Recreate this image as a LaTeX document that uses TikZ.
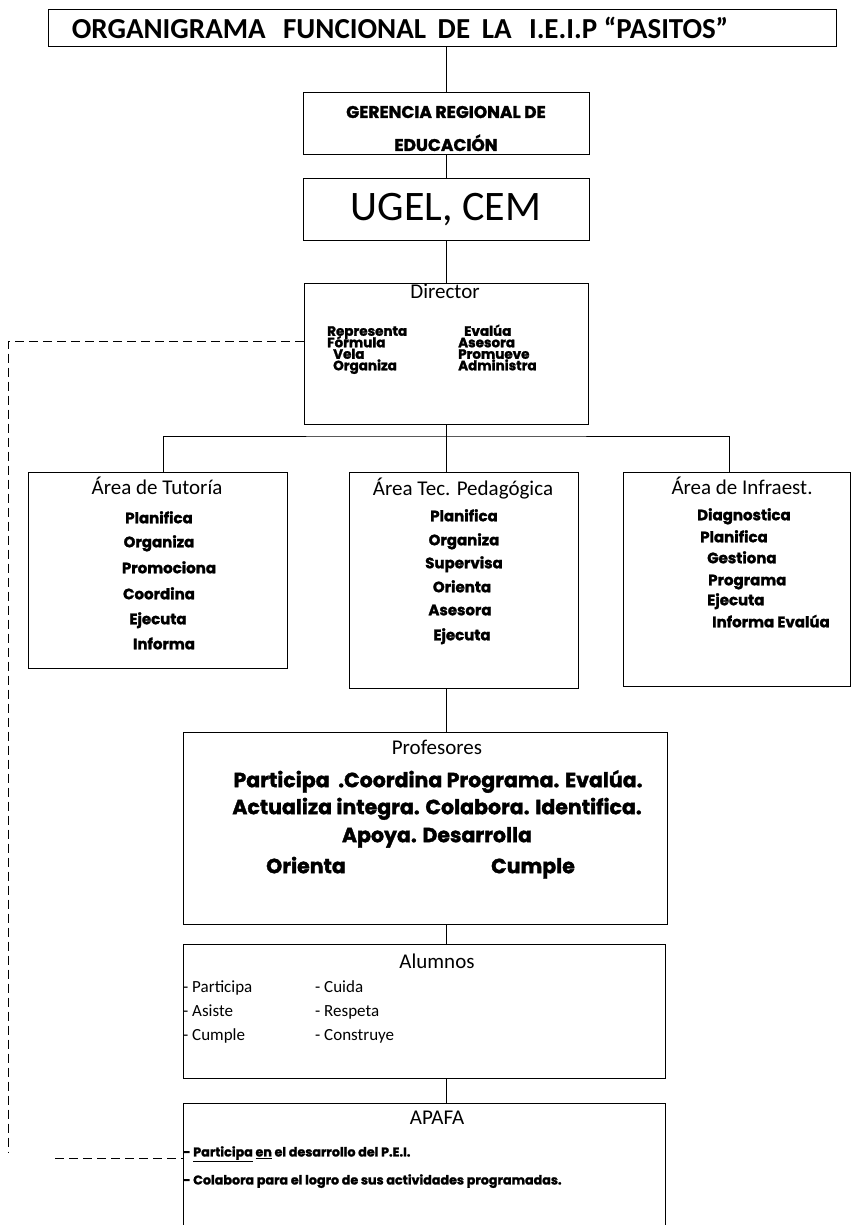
\documentclass[tikz,border=0pt]{standalone}
\usepackage{fontspec}
\setmainfont{Carlito}
\newfontfamily\gruesa{Poppins}[BoldFeatures={FakeBold=1.6}]
\usetikzlibrary{positioning}

\tikzset{
  caja/.style={draw, line width=1pt, inner sep=0pt},
  enlace/.style={line width=0.9pt},
  punteado/.style={line width=0.9pt, dash pattern=on 9pt off 5pt},
  titular/.style={inner sep=0pt, text height=13.5pt, text depth=0pt, font=\fontsize{21}{21}\selectfont},
  verbo/.style={inner sep=0pt, text height=10.5pt, text depth=0pt, font=\gruesa\bfseries\fontsize{15}{15}\selectfont},
  lista/.style={inner sep=0pt, anchor=west, text height=11pt, text depth=0pt, font=\fontsize{17}{17}\selectfont},
}

\begin{document}
\begin{tikzpicture}[x=1pt,y=-1pt]
  \useasboundingbox (0,0) rectangle (852,1225);

  % cajas
  \node[caja, minimum width=788, minimum height=37] (titulo) at (442,28.5) {};
  \node[caja, minimum width=286, minimum height=62] (gerencia) at (446,124) {};
  \node[caja, minimum width=286, minimum height=61] (ugel) at (446,209.5) {};
  \node[caja, minimum width=284, minimum height=141] (director) at (446,353.5) {};
  \node[caja, minimum width=259, minimum height=196] (tutoria) at (157.5,570) {};
  \node[caja, minimum width=229, minimum height=216] (pedagogica) at (463.5,580) {};
  \node[caja, minimum width=227, minimum height=214] (infra) at (736.5,579) {};
  \node[caja, minimum width=484, minimum height=192] (profesores) at (425,828) {};
  \node[caja, minimum width=482, minimum height=134] (alumnos) at (424,1011) {};
  \node[caja, minimum width=482, minimum height=140] (apafa) at (424,1173) {};

  % textos de cabecera
  \node[inner sep=0pt, text height=18.7pt, text depth=0pt, font=\bfseries\fontsize{29}{29}\selectfont] (tituloTxt) at (400,29)
    {ORGANIGRAMA\hspace{0.6em}FUNCIONAL\hspace{0.4em}DE\hspace{0.4em}LA\hspace{0.6em}I.E.I.P “PASITOS”};
  \node[verbo, text height=12pt, font=\gruesa\bfseries\fontsize{17}{17}\selectfont] (gerenciaTxt) at (446,112) {GERENCIA REGIONAL DE};
  \node[verbo, text height=12pt, font=\gruesa\bfseries\fontsize{17}{17}\selectfont] (educacionTxt) at (446,145) {EDUCACIÓN};
  \node[inner sep=0pt, text height=27pt, text depth=0pt, font=\fontsize{42}{42}\selectfont] (ugelTxt) at (446,207) {UGEL, CEM};
  \node[titular] (directorTxt) at (445,292) {Director};
  \node[titular] (tutoriaTxt) at (157,488) {Área de Tutoría};
  \node[titular] (pedagogicaTxt) at (463,489) {Área Tec. Pedagógica};
  \node[titular] (infraTxt) at (742,488) {Área de Infraest.};
  \node[titular] (profesoresTxt) at (437,748) {Profesores};
  \node[titular] (alumnosTxt) at (437,962) {Alumnos};
  \node[titular] (apafaTxt) at (437,1118) {APAFA};

  % funciones del director
  \foreach \a/\xa/\b/\xb [count=\i] in {Representa/327/Evalúa/464, Fórmula/327/Asesora/458,
      Vela/333/Promueve/458, Organiza/333/Administra/458} {
    \node[verbo, anchor=west, text height=9.5pt, font=\gruesa\bfseries\fontsize{13.5}{13.5}\selectfont] (dirA\i) at (\xa,319.5+11.5*\i) {\a};
    \node[verbo, anchor=west, text height=9.5pt, font=\gruesa\bfseries\fontsize{13.5}{13.5}\selectfont] (dirB\i) at (\xb,319.5+11.5*\i) {\b};
  }

  % funciones de las areas
  \foreach \v/\x/\y [count=\i] in {Planifica/159/518, Organiza/159/542, Promociona/169/568,
      Coordina/159/594, Ejecuta/158/619, Informa/164/644}
    \node[verbo] (tut\i) at (\x,\y) {\v};
  \foreach \v/\x/\y [count=\i] in {Planifica/464/516, Organiza/464/540, Supervisa/464/563,
      Orienta/462/587, Asesora/460/610, Ejecuta/462/635}
    \node[verbo] (ped\i) at (\x,\y) {\v};
  \foreach \v/\x/\y [count=\i] in {Diagnostica/697/515, Planifica/700/537, Gestiona/707/558,
      Programa/708/580, Ejecuta/707/600, Informa Evalúa/712/622}
    \node[verbo, anchor=west] (inf\i) at (\x,\y) {\v};

  % profesores
  \begin{scope}[every node/.style={verbo, text height=14.4pt, font=\gruesa\bfseries\fontsize{20.5}{20.5}\selectfont}]
    \node (prof1) at (438,780) {Participa \ .Coordina Programa. Evalúa.};
    \node (prof2) at (437,807) {Actualiza integra. Colabora. Identifica.};
    \node (prof3) at (437,835) {Apoya. Desarrolla};
    \node (prof4) at (306,866) {Orienta};
    \node (prof5) at (533,866) {Cumple};
  \end{scope}

  % alumnos
  \foreach \a/\b [count=\i] in {Participa/Cuida, Asiste/Respeta, Cumple/Construye} {
    \node[lista] (aluA\i) at (183,963+24*\i) {- \a};
    \node[lista] (aluB\i) at (315,963+24*\i) {- \b};
  }

  % apafa
  \node[verbo, anchor=west, text height=8.9pt, font=\gruesa\bfseries\fontsize{12.7}{12.7}\selectfont] (apafa1) at (183,1152)
    {- \underline{Participa}\ \underline{en} el desarrollo del P.E.I.};
  \node[verbo, anchor=west, text height=8.9pt, font=\gruesa\bfseries\fontsize{12.7}{12.7}\selectfont] (apafa2) at (183,1180)
    {- Colabora para el logro de sus actividades programadas.};

  % enlaces
  \coordinate (bus) at (446,436);
  \draw[enlace] (gerencia.north |- titulo.south) -- (gerencia.north);
  \draw[enlace] (gerencia.south) -- (ugel.north);
  \draw[enlace] (ugel.south) -- (director.north);
  \draw[enlace] (director.south) -- (bus);
  \draw[enlace] ([xshift=5.5pt]tutoria.north) |- (bus) -| ([xshift=-7.5pt]infra.north);
  \draw[enlace] (bus) -- (pedagogica.north -| bus);
  \draw[enlace] (pedagogica.south -| bus) -- (profesores.north -| bus);
  \draw[enlace] (profesores.south -| bus) -- (alumnos.north -| bus);
  \draw[enlace] (alumnos.south -| bus) -- (apafa.north -| bus);

  % linea punteada
  \coordinate (lazoA) at (8,341);
  \coordinate (lazoB) at (8,1153);
  \coordinate (lazoC) at (55,1158);
  \draw[punteado] ([yshift=12.5pt]director.west) -- (lazoA) -- (lazoB);
  \draw[punteado] (lazoC) -- (lazoC -| apafa.west);
\end{tikzpicture}
\end{document}
